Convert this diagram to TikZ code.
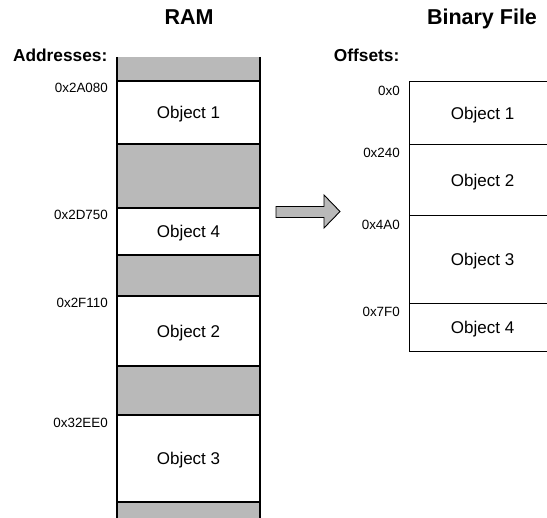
\documentclass[tikz,border=0pt]{standalone}
\usepackage{fontspec}
\setmainfont{Liberation Sans}
\definecolor{memgray}{RGB}{185,185,185}
\begin{document}
\begin{tikzpicture}[x=1pt,y=-1pt,
  title/.style={font=\fontsize{21.5}{26}\selectfont\bfseries, inner sep=0pt, anchor=base},
  header/.style={font=\fontsize{17.3}{20}\selectfont\bfseries, inner sep=0pt, anchor=base east},
  addr/.style={font=\fontsize{13.4}{16}\selectfont, inner sep=0pt, anchor=east},
  objbox/.style={draw=black, line width=1.2pt, fill=white, inner sep=0pt,
    font=\fontsize{17}{20}\selectfont, text height=12.2pt, text depth=0pt},
  ramobj/.style={objbox, minimum width=143pt},
  binobj/.style={objbox, minimum width=146pt, anchor=north west},
  edge/.style={line width=1.2pt}
]
\useasboundingbox (0,0) rectangle (547,518);
\clip (0,0) rectangle (547,518);

% titles and headers
\node[title] (tram) at (189,24.5) {RAM};
\node[title] (tbin) at (482,24.5) {Binary File};
\node[header] (haddr) at (107.5,62) {Addresses:};
\node[header] (hoff) at (399.5,62) {Offsets:};

% RAM column
\fill[memgray] (117,57) rectangle (260,520);
\node[ramobj, minimum height=63pt] (r1) at (188.5,112.5) {Object 1};
\node[ramobj, minimum height=47pt] (r4) at (188.5,231.5) {Object 4};
\node[ramobj, minimum height=70pt] (r2) at (188.5,331) {Object 2};
\node[ramobj, minimum height=87pt] (r3) at (188.5,458.5) {Object 3};
\coordinate (rtl) at (117,57);
\coordinate (rbl) at (117,520);
\coordinate (rtr) at (260,57);
\coordinate (rbr) at (260,520);
\draw[edge] (rtl) -- (rbl);
\draw[edge] (rtr) -- (rbr);

% addresses
\node[addr] (a1) at (108,87.5) {0x2A080};
\node[addr] (a2) at (108,215) {0x2D750};
\node[addr] (a3) at (108,303) {0x2F110};
\node[addr] (a4) at (108,423) {0x32EE0};

% arrow
\draw[fill=memgray, line width=0.9pt, line join=miter]
  (276,206.5) -- (324,206.5) -- (324,195) -- (340,211.5) -- (324,228) -- (324,217.5) -- (276,217.5) -- cycle;

% binary file
\node[binobj, minimum height=63pt] (b1) at (409,81) {Object 1};
\node[binobj, minimum height=71pt] (b2) at (409,144) {Object 2};
\node[binobj, minimum height=88pt] (b3) at (409,215) {Object 3};
\node[binobj, minimum height=48pt] (b4) at (409,303) {Object 4};

% offsets
\node[addr] (o1) at (400,91) {0x0};
\node[addr] (o2) at (400,152.5) {0x240};
\node[addr] (o3) at (400,224.5) {0x4A0};
\node[addr] (o4) at (400,312) {0x7F0};
\end{tikzpicture}
\end{document}
